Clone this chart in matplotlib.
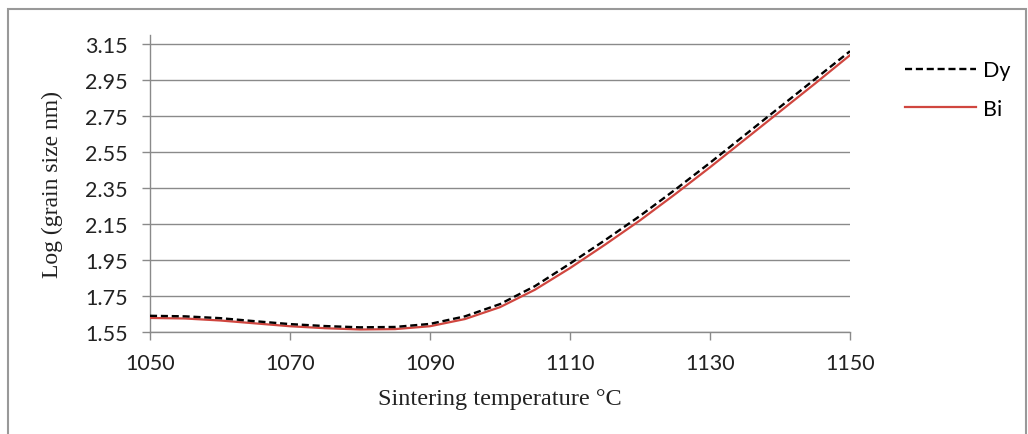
import matplotlib
matplotlib.use("Agg")
import matplotlib.pyplot as plt
from matplotlib.patches import Rectangle

temps = [1050, 1055, 1060, 1065, 1070, 1075, 1080, 1085, 1090, 1095, 1100,
         1105, 1110, 1115, 1120, 1125, 1130, 1135, 1140, 1145, 1150]
dy = [1.640, 1.637, 1.627, 1.610, 1.594, 1.583, 1.576, 1.578, 1.595, 1.637, 1.705,
      1.805, 1.930, 2.060, 2.195, 2.340, 2.490, 2.645, 2.800, 2.955, 3.110]
bi = [1.628, 1.625, 1.614, 1.598, 1.582, 1.571, 1.564, 1.566, 1.582, 1.622, 1.688,
      1.785, 1.905, 2.035, 2.170, 2.315, 2.465, 2.620, 2.775, 2.930, 3.088]
xticks = [1050, 1070, 1090, 1110, 1130, 1150]
yticks = [1.55, 1.75, 1.95, 2.15, 2.35, 2.55, 2.75, 2.95, 3.15]

W, H = 1028, 435
fig = plt.figure(figsize=(W / 100, H / 100), dpi=100)
left, right, top, bottom = 150, 850, 36, 333
ax = fig.add_axes([left / W, 1 - bottom / H, (right - left) / W, (bottom - top) / H])

grid_c = "#8a8a8a"
for y in yticks:
    ax.axhline(y, color=grid_c, lw=1.0, zorder=1)

ax.plot(temps, dy, color="black", lw=1.7, dashes=(3, 1.6), label="Dy", zorder=4)
ax.plot(temps, bi, color="#D0463F", lw=1.6, label="Bi", zorder=3)

ax.set_xlim(1050, 1150)
ax.set_ylim(1.55, 3.2)
ax.set_xticks(xticks)
ax.set_yticks(yticks)
ax.set_xticklabels([str(t) for t in xticks])
ax.set_yticklabels([f"{v:.2f}" for v in yticks])

for s in ["top", "right"]:
    ax.spines[s].set_visible(False)
for s in ["left", "bottom"]:
    ax.spines[s].set_color(grid_c)
    ax.spines[s].set_linewidth(1.0)

ax.tick_params(axis="both", direction="out", length=6, width=1.0, color=grid_c,
               labelsize=15.5, labelcolor="#222222")
ax.tick_params(axis="x", pad=9)
ax.tick_params(axis="y", pad=10)
for lab in ax.get_xticklabels() + ax.get_yticklabels():
    lab.set_family("Lato")

ax.set_xlabel("Sintering temperature °C", family="Liberation Serif", fontsize=17.5,
              color="#222222")
ax.set_ylabel("Log (grain size nm)", family="Liberation Serif", fontsize=17,
              color="#222222")
ax.xaxis.set_label_coords(0.5, (333 - 400) / 297)
ax.xaxis.label.set_va("center")
ax.yaxis.set_label_coords((52 - 150) / 700, 0.5)
ax.yaxis.label.set_va("center")

leg = fig.legend(loc="upper left", bbox_to_anchor=(886 / W, 1 - 42 / H),
                 frameon=False, prop={"family": "Lato", "size": 15.5},
                 handlelength=3.3, handletextpad=0.3, labelspacing=0.85)

fig.patches.append(Rectangle((8 / W, -0.05), (1026 - 8) / W, 1 - 10 / H + 0.05,
                             transform=fig.transFigure, fill=False,
                             edgecolor="#999999", lw=1.5))

fig.savefig("out.png", dpi=100)
